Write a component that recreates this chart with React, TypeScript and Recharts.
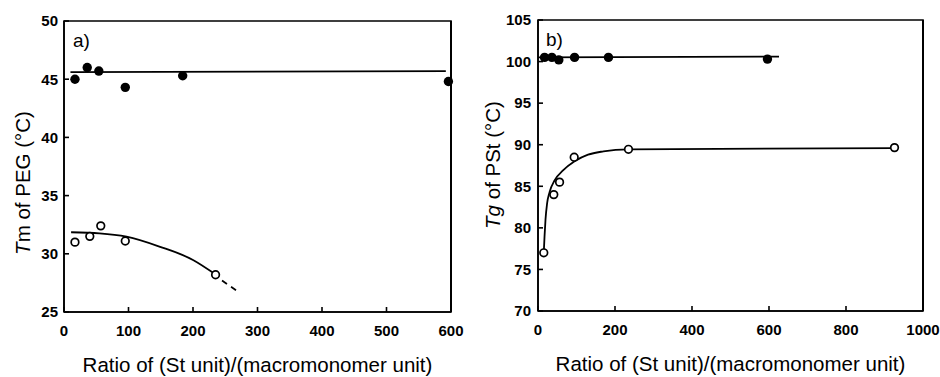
import React from "react";
import {
  ComposedChart,
  Line,
  Scatter,
  XAxis,
  YAxis,
  ReferenceArea,
} from "recharts";

// panel a) Tm of PEG
const filledA = [
  { x: 17, y: 45.0 },
  { x: 36, y: 46.0 },
  { x: 54, y: 45.7 },
  { x: 95, y: 44.3 },
  { x: 184, y: 45.3 },
  { x: 596, y: 44.8 },
];
const openA = [
  { x: 17, y: 31.0 },
  { x: 40, y: 31.5 },
  { x: 57, y: 32.4 },
  { x: 95, y: 31.1 },
  { x: 235, y: 28.2 },
];
const fitFilledA = [
  { x: 10, y: 45.6 },
  { x: 592, y: 45.7 },
];
const fitOpenA = [
  { x: 11, y: 31.85 },
  { x: 55, y: 31.76 },
  { x: 97, y: 31.47 },
  { x: 149, y: 30.6 },
  { x: 200, y: 29.47 },
  { x: 233, y: 28.3 },
];
const dashedA = [
  { x: 245, y: 27.7 },
  { x: 271, y: 26.7 },
];
const ticksXA = [0, 100, 200, 300, 400, 500, 600];
const ticksYA = [25, 30, 35, 40, 45, 50];

// panel b) Tg of PSt
const filledB = [
  { x: 17, y: 100.5 },
  { x: 36, y: 100.5 },
  { x: 54, y: 100.2 },
  { x: 95, y: 100.5 },
  { x: 183, y: 100.5 },
  { x: 596, y: 100.3 },
];
const openB = [
  { x: 15, y: 77.0 },
  { x: 41, y: 84.0 },
  { x: 56, y: 85.5 },
  { x: 94, y: 88.5 },
  { x: 235, y: 89.45 },
  { x: 926, y: 89.65 },
];
const fitFilledB = [
  { x: 0, y: 100.5 },
  { x: 626, y: 100.6 },
];
const fitOpenB = [
  { x: 15, y: 77.0 },
  { x: 17, y: 79.0 },
  { x: 19.5, y: 81.0 },
  { x: 23.5, y: 82.9 },
  { x: 30, y: 84.3 },
  { x: 43, y: 85.7 },
  { x: 65, y: 86.9 },
  { x: 95, y: 88.0 },
  { x: 130, y: 88.8 },
  { x: 170, y: 89.2 },
  { x: 235, y: 89.45 },
  { x: 926, y: 89.6 },
];
const ticksXB = [0, 200, 400, 600, 800, 1000];
const ticksYB = [70, 75, 80, 85, 90, 95, 100, 105];

const xTitle = "Ratio of (St unit)/(macromonomer unit)";
const font = "'Liberation Sans', Arial, sans-serif";
const tickStyle = { fontSize: 15, fontWeight: 700, fill: "#000", fontFamily: font };
const axisStroke = { stroke: "#000", strokeWidth: 1.6 };

const FilledDot = (p: any) => <circle cx={p.cx} cy={p.cy} r={4.7} fill="#000" />;
const OpenDot = (p: any) => (
  <circle cx={p.cx} cy={p.cy} r={3.8} fill="#fff" stroke="#000" strokeWidth={1.7} />
);

const YTitle = ({ cx, cy, head, rest }: any) => (
  <text
    x={cx}
    y={cy}
    transform={`rotate(-90 ${cx} ${cy})`}
    textAnchor="middle"
    dominantBaseline="central"
    fontSize={20.5}
    fontFamily={font}
    fill="#000"
  >
    <tspan fontStyle="italic">{head}</tspan>
    {rest}
  </text>
);

type Pt = { x: number; y: number };
type PanelProps = {
  left: number;
  margin: { top: number; right: number; left: number; bottom: number };
  xDomain: [number, number];
  yDomain: [number, number];
  xTicks: number[];
  yTicks: number[];
  yTickMargin: number;
  filled: Pt[];
  open: Pt[];
  fitFilled: Pt[];
  fitOpen: Pt[];
  dashed?: Pt[];
  yTitle: React.ReactNode;
  tag: string;
  tagPos: { x: number; y: number };
};

const Panel = (p: PanelProps) => {
  const plotRight = 470 - p.margin.right - 1;
  const plotHeight = 377 - p.margin.top - p.margin.bottom - 60;
  return (
    <div style={{ position: "absolute", left: p.left, top: 0, width: 470, height: 377 }}>
      <ComposedChart width={470} height={377} margin={p.margin}>
        <XAxis
          type="number"
          dataKey="x"
          domain={p.xDomain}
          ticks={p.xTicks}
          height={60}
          stroke="#000"
          tickSize={-5}
          tickMargin={18}
          tick={tickStyle}
          tickLine={axisStroke}
          axisLine={axisStroke}
          label={{ value: xTitle, position: "insideBottom", offset: 0, fontSize: 20.5, fill: "#000", fontFamily: font }}
        />
        <YAxis
          type="number"
          dataKey="y"
          domain={p.yDomain}
          ticks={p.yTicks}
          width={40}
          stroke="#000"
          tickSize={-5}
          tickMargin={p.yTickMargin}
          tick={tickStyle}
          tickLine={axisStroke}
          axisLine={axisStroke}
          label={{ content: () => p.yTitle }}
        />
        {/* right edge of the frame */}
        <YAxis
          yAxisId="frame"
          orientation="right"
          type="number"
          domain={p.yDomain}
          width={1}
          tick={false}
          tickLine={false}
          stroke="#000"
          axisLine={axisStroke}
        />
        {/* plot frame */}
        <ReferenceArea
          x1={p.xDomain[0]}
          x2={p.xDomain[1]}
          y1={p.yDomain[0]}
          y2={p.yDomain[1]}
          fill="none"
          fillOpacity={0}
          stroke="#000"
          strokeWidth={1.6}
          strokeOpacity={1}
          ifOverflow="visible"
        />
        <Line data={p.fitFilled} dataKey="y" type="linear" stroke="#000" strokeWidth={1.8} dot={false} isAnimationActive={false} />
        <Line data={p.fitOpen} dataKey="y" type="monotone" stroke="#000" strokeWidth={1.8} dot={false} isAnimationActive={false} />
        {p.dashed && (
          <Line data={p.dashed} dataKey="y" type="linear" stroke="#000" strokeWidth={1.8} strokeDasharray="6 5" dot={false} isAnimationActive={false} />
        )}
        <Scatter data={p.filled} dataKey="y" shape={FilledDot} isAnimationActive={false} />
        <Scatter data={p.open} dataKey="y" shape={OpenDot} isAnimationActive={false} />
      </ComposedChart>
      {/* frame edge drawn again as plain box in case the svg one is hidden */}
      <div
        style={{
          position: "absolute",
          left: plotRight - 0.8,
          top: p.margin.top,
          width: 1.6,
          height: plotHeight,
          background: "#000",
          pointerEvents: "none",
        }}
      />
      <div
        style={{
          position: "absolute",
          left: p.tagPos.x,
          top: p.tagPos.y,
          fontFamily: font,
          fontSize: 19,
          lineHeight: "19px",
          color: "#000",
        }}
      >
        {p.tag}
      </div>
    </div>
  );
};

export default function App() {
  return (
    <div style={{ position: "absolute", left: 0, top: 0, width: 940, height: 377, background: "#fff" }}>
      <Panel
        left={0}
        margin={{ top: 21, right: 18, left: 24, bottom: 5 }}
        xDomain={[0, 600]}
        yDomain={[25, 50]}
        xTicks={ticksXA}
        yTicks={ticksYA}
        yTickMargin={11}
        filled={filledA}
        open={openA}
        fitFilled={fitFilledA}
        fitOpen={fitOpenA}
        dashed={dashedA}
        yTitle={<YTitle cx={22} cy={183} head="T" rest="m of PEG (°C)" />}
        tag="a)"
        tagPos={{ x: 73, y: 31 }}
      />
      <Panel
        left={470}
        margin={{ top: 20, right: 16, left: 28, bottom: 6 }}
        xDomain={[0, 1000]}
        yDomain={[70, 105]}
        xTicks={ticksXB}
        yTicks={ticksYB}
        yTickMargin={12}
        filled={filledB}
        open={openB}
        fitFilled={fitFilledB}
        fitOpen={fitOpenB}
        yTitle={<YTitle cx={22} cy={165} head="Tg" rest=" of PSt (°C)" />}
        tag="b)"
        tagPos={{ x: 76, y: 30 }}
      />
    </div>
  );
}
